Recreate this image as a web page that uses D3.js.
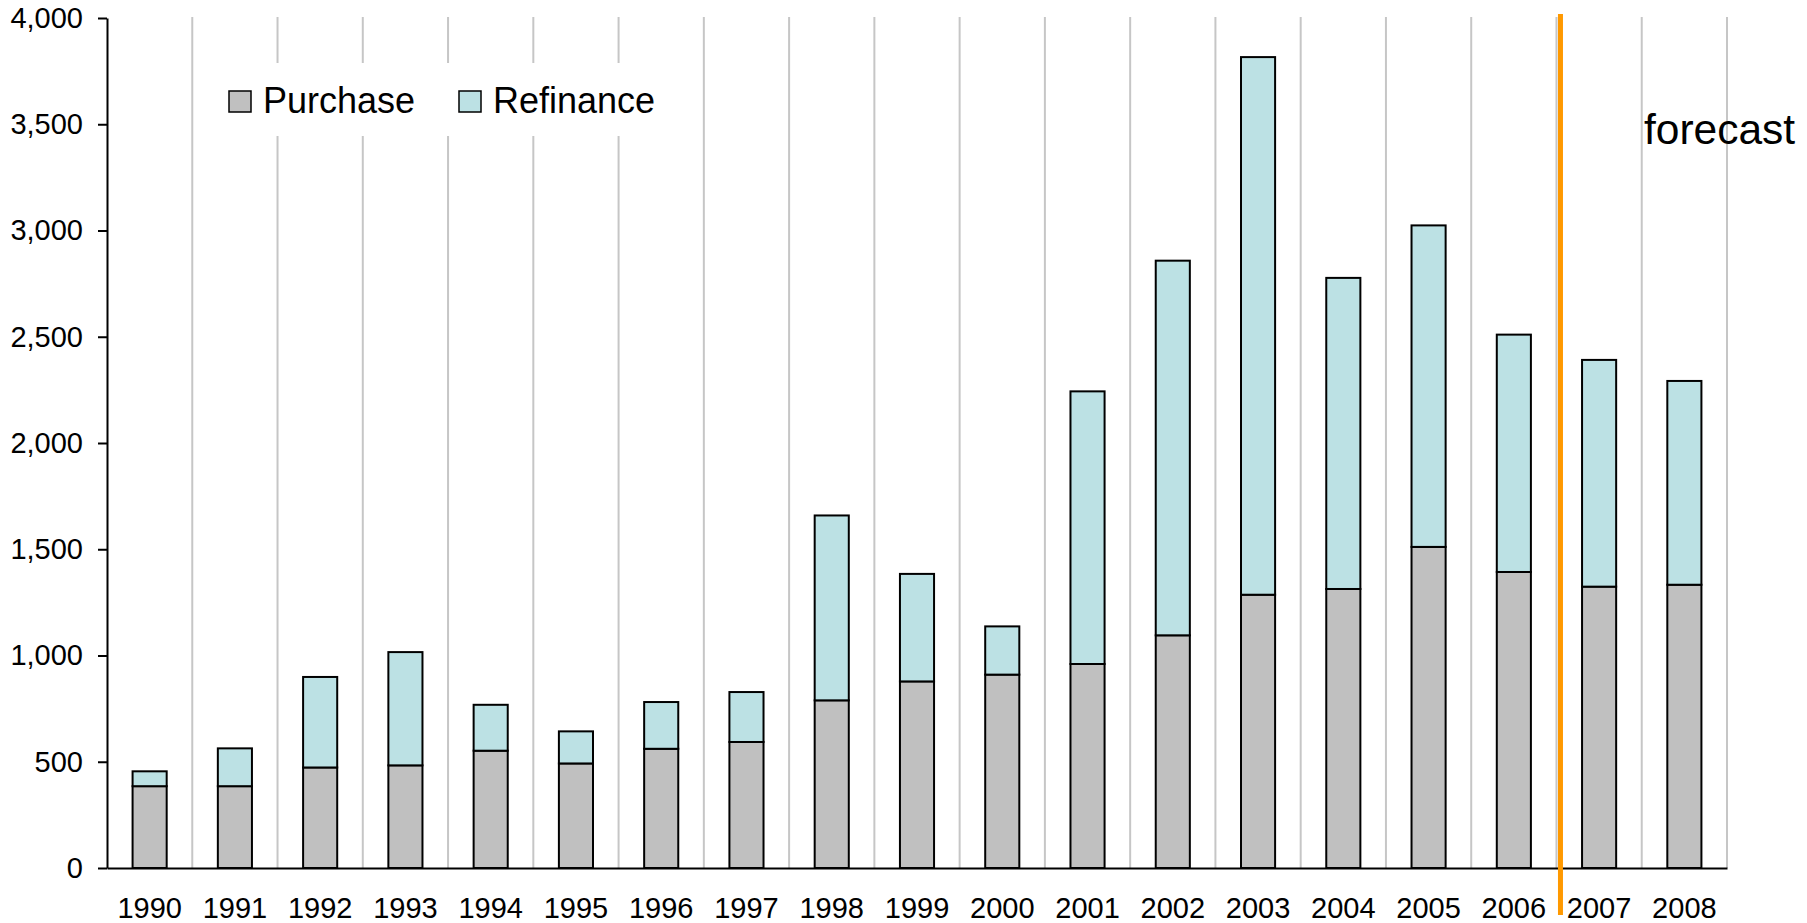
<!DOCTYPE html>
<html><head><meta charset="utf-8">
<script src="https://cdn.jsdelivr.net/npm/d3@7"></script>
<style>
body{margin:0;background:#fff;}
svg{display:block;}
text{font-family:"Liberation Sans", Arial, Helvetica, sans-serif; fill:#000;}
</style>
</head><body>
<svg id="chart" width="1807" height="923"></svg>
<script>
// ---- data ----
const years = ["1990","1991","1992","1993","1994","1995","1996","1997","1998","1999","2000","2001","2002","2003","2004","2005","2006","2007","2008"];
const purchase  = [385, 385, 473, 483, 552, 492, 561, 593, 789, 878, 910, 960, 1095, 1286, 1313, 1511, 1393, 1324, 1333];
const refinance = [70, 178, 426, 533, 216, 151, 220, 235, 870, 506, 227, 1283, 1763, 2530, 1464, 1513, 1117, 1067, 959];
const seriesNames = ["Purchase", "Refinance"];
const yTicks = [0, 500, 1000, 1500, 2000, 2500, 3000, 3500, 4000];
const forecastStart = "2007";
const forecastLabel = "forecast";

// ---- layout ----
const colors = {Purchase: "#C0C0C0", Refinance: "#BCE1E4"};
const plot = {x0: 107, x1: 1727, y0: 868, y1: 18};

const svg = d3.select("#chart");
const rows = years.map((yr, i) => ({year: yr, Purchase: purchase[i], Refinance: refinance[i]}));

const x = d3.scaleBand().domain(years).range([plot.x0, plot.x1]).paddingInner(0.6).paddingOuter(0.3);
const y = d3.scaleLinear().domain([0, 4000]).range([plot.y0, plot.y1]);
const halfGap = (x.step() - x.bandwidth()) / 2;

// vertical gridlines at category boundaries
svg.append("g").selectAll("line").data(years).join("line")
  .attr("x1", d => x(d) + x.bandwidth() + halfGap)
  .attr("x2", d => x(d) + x.bandwidth() + halfGap)
  .attr("y1", y(4000) - 1).attr("y2", y(0))
  .attr("stroke", "#C6C6C6").attr("stroke-width", 2);

// legend background (hides gridlines)
svg.append("rect").attr("x", 214).attr("y", 63).attr("width", 476).attr("height", 73).attr("fill", "#fff");

// stacked bars
const stack = d3.stack().keys(seriesNames)(rows);
svg.append("g").selectAll("g").data(stack).join("g")
  .attr("fill", s => colors[s.key])
  .selectAll("rect").data(s => s).join("rect")
  .attr("x", d => x(d.data.year))
  .attr("width", x.bandwidth())
  .attr("y", d => y(d[1]))
  .attr("height", d => y(d[0]) - y(d[1]))
  .attr("stroke", "#000").attr("stroke-width", 2);

// y axis
const yAxis = svg.append("g").attr("transform", `translate(${plot.x0},0)`)
  .call(d3.axisLeft(y).tickValues(yTicks).tickFormat(d3.format(",")).tickSize(9).tickPadding(15).tickSizeOuter(0));
yAxis.select(".domain").attr("stroke", "#000").attr("stroke-width", 2);
yAxis.selectAll(".tick line").attr("stroke", "#000").attr("stroke-width", 2);
yAxis.selectAll(".tick text").attr("font-size", 29).attr("font-family", "Liberation Sans, Arial, sans-serif").attr("fill", "#000");

// x axis
const xAxis = svg.append("g").attr("transform", `translate(0,${plot.y0})`)
  .call(d3.axisBottom(x).tickSize(0).tickPadding(29).tickSizeOuter(0));
xAxis.select(".domain").attr("stroke", "#000").attr("stroke-width", 2);
xAxis.selectAll(".tick text").attr("font-size", 29).attr("font-family", "Liberation Sans, Arial, sans-serif").attr("fill", "#000");

// forecast divider
const fx = x(forecastStart) - halfGap + 4;
svg.append("line").attr("x1", fx).attr("x2", fx).attr("y1", 14).attr("y2", 915)
  .attr("stroke", "#FF9900").attr("stroke-width", 5);
svg.append("text").attr("x", 1644).attr("y", 144).attr("font-size", 42.5).text(forecastLabel);

// legend
const legendPos = [{sx: 229, tx: 263}, {sx: 459, tx: 493}];
const lg = svg.append("g").selectAll("g").data(seriesNames).join("g");
lg.append("rect")
  .attr("x", (d, i) => legendPos[i].sx).attr("y", 91).attr("width", 22).attr("height", 21)
  .attr("fill", d => colors[d]).attr("stroke", "#000").attr("stroke-width", 1.5);
lg.append("text")
  .attr("x", (d, i) => legendPos[i].tx).attr("y", 113).attr("font-size", 36).text(d => d);
</script>
</body></html>
